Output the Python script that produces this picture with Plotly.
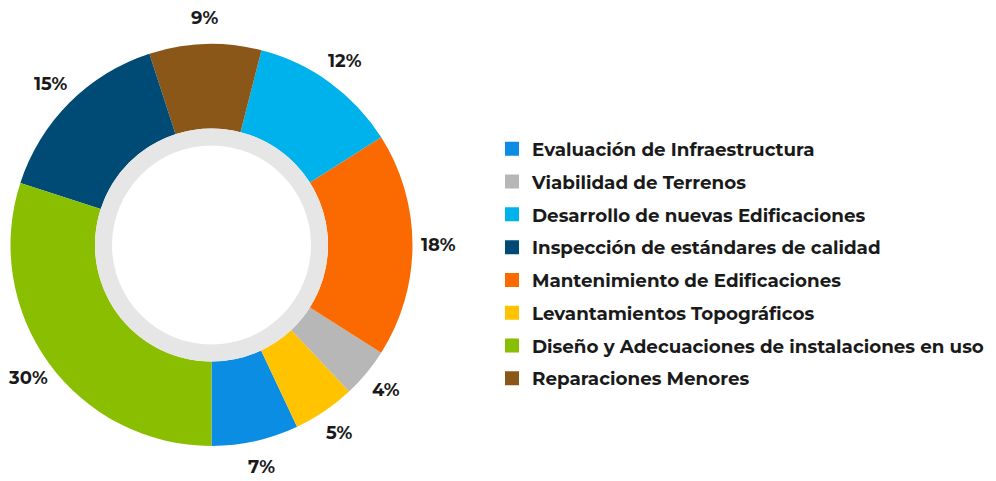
import math

import plotly.graph_objects as go

# slice order, counterclockwise from 6 o'clock
slice_labels = [
    "Evaluación de Infraestructura",
    "Levantamientos Topográficos",
    "Viabilidad de Terrenos",
    "Mantenimiento de Edificaciones",
    "Desarrollo de nuevas Edificaciones",
    "Reparaciones Menores",
    "Inspección de estándares de calidad",
    "Diseño y Adecuaciones de instalaciones en uso",
]
slice_values = [7, 5, 4, 18, 12, 9, 15, 30]

# legend order as it appears on the right
legend_labels = [
    "Evaluación de Infraestructura",
    "Viabilidad de Terrenos",
    "Desarrollo de nuevas Edificaciones",
    "Inspección de estándares de calidad",
    "Mantenimiento de Edificaciones",
    "Levantamientos Topográficos",
    "Diseño y Adecuaciones de instalaciones en uso",
    "Reparaciones Menores",
]

colors = {
    "Evaluación de Infraestructura": "#0A8DE2",
    "Viabilidad de Terrenos": "#B7B7B7",
    "Desarrollo de nuevas Edificaciones": "#00B2EB",
    "Inspección de estándares de calidad": "#004B76",
    "Mantenimiento de Edificaciones": "#FB6A00",
    "Levantamientos Topográficos": "#FFC300",
    "Diseño y Adecuaciones de instalaciones en uso": "#8ABE00",
    "Reparaciones Menores": "#8A5718",
}

FONT = "Montserrat, DejaVu Sans, sans-serif"
W, H = 996, 481
CX, CY, R = 203.5, 237, 201  # pie centre / radius in px
R_RING, R_WHITE = 116.5, 99.5
R_LABEL = 227
START = 180  # first slice starts at 6 o'clock, going counterclockwise


def px_domain(cx, cy, r):
    return dict(
        x=[(cx - r) / W, (cx + r) / W],
        y=[1 - (cy + r) / H, 1 - (cy - r) / H],
    )


fig = go.Figure()

fig.add_trace(
    go.Pie(
        labels=slice_labels,
        values=slice_values,
        sort=False,
        direction="counterclockwise",
        rotation=START - slice_values[0] * 3.6,
        hole=R_RING / R,
        marker=dict(colors=[colors[l] for l in slice_labels], line=dict(width=0)),
        textinfo="none",
        domain=px_domain(CX, CY, R),
        showlegend=False,
        hoverinfo="skip",
    )
)

# light gray ring inside the hole
fig.add_trace(
    go.Pie(
        values=[1],
        marker=dict(colors=["#E6E6E6"], line=dict(width=0)),
        hole=R_WHITE / R_RING,
        textinfo="none",
        domain=px_domain(CX, CY, R_RING),
        showlegend=False,
        hoverinfo="skip",
        sort=False,
    )
)

# percentage labels around the ring, at each slice's mid angle
total = sum(slice_values)
cum = 0
for v in slice_values:
    mid = START - (cum + v / 2) / total * 360  # clockwise from 12 o'clock
    cum += v
    a = math.radians(mid)
    fig.add_annotation(
        x=(CX + R_LABEL * math.sin(a)) / W,
        y=1 - (CY - R_LABEL * math.cos(a)) / H,
        xref="paper",
        yref="paper",
        text=f"{v / total:.0%}",
        showarrow=False,
        xanchor="center",
        yanchor="middle",
        font=dict(family=FONT, size=18, color="#1a1a1a", weight="bold"),
    )

for i, name in enumerate(legend_labels):
    fig.add_trace(
        go.Scatter(
            x=[None],
            y=[None],
            mode="markers",
            name=name,
            legendgroup=str(i),
            marker=dict(symbol="square", size=14, color=colors[name]),
        )
    )

fig.update_layout(
    width=W,
    height=H,
    margin=dict(l=0, r=0, t=0, b=0, autoexpand=False),
    paper_bgcolor="white",
    plot_bgcolor="white",
    xaxis=dict(visible=False),
    yaxis=dict(visible=False),
    legend=dict(
        x=484 / W,
        xanchor="left",
        y=0.468,
        yanchor="middle",
        tracegroupgap=6,
        font=dict(family=FONT, size=18.3, color="#1a1a1a", weight="bold"),
        bgcolor="rgba(0,0,0,0)",
    ),
)

fig.write_html("out.html")
